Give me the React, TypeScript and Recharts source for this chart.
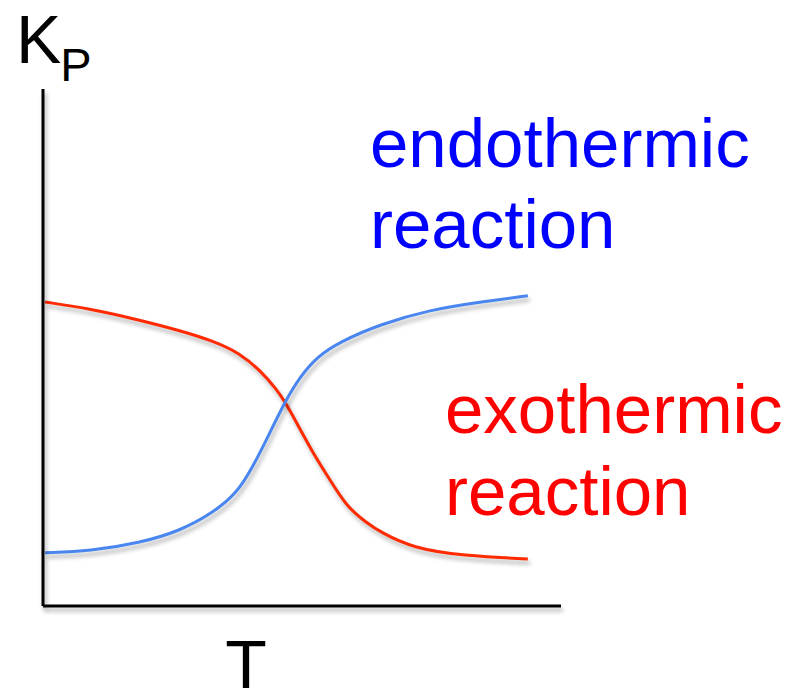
import React from 'react';
import { LineChart, Line, XAxis, YAxis, Customized } from 'recharts';

// T (arbitrary units) vs Kp (arbitrary units)
const exoT = [0.04, 0.91, 1.87, 2.64, 3.28, 3.8, 4.19, 4.52, 4.67, 4.9, 5.21, 5.54, 5.87, 6.25, 6.51, 7.14, 8.11, 9.36];
const exoKp = [5.88, 5.75, 5.53, 5.33, 5.13, 4.89, 4.56, 4.18, 3.95, 3.54, 2.96, 2.44, 1.91, 1.61, 1.43, 1.12, 0.97, 0.91];
const endoT = [0.04, 0.91, 1.87, 2.64, 3.28, 3.75, 4.05, 4.38, 4.67, 4.96, 5.29, 5.73, 6.51, 7.47, 8.44, 9.36];
const endoKp = [1.03, 1.06, 1.22, 1.45, 1.8, 2.19, 2.69, 3.35, 3.95, 4.43, 4.82, 5.11, 5.45, 5.73, 5.88, 6.0];

const exoData = exoT.map((t, i) => ({ t, kp: exoKp[i] }));
const endoData = endoT.map((t, i) => ({ t, kp: endoKp[i] }));

const FONT = '"Liberation Sans", Arial, Helvetica, sans-serif';

const Labels = () => (
  <g fontFamily={FONT}>
    <text x={16} y={63} fontSize={68} fill="#000">
      K
      <tspan fontSize={47} dx={-1} dy={18}>P</tspan>
    </text>
    <text x={246} y={688} fontSize={68} fill="#000" textAnchor="middle">T</text>
    <text x={370} y={167} fontSize={69} fill="#0000FF">endothermic</text>
    <text x={370} y={248} fontSize={69} fill="#0000FF">reaction</text>
    <text x={445} y={433} fontSize={69} fill="#FF0000">exothermic</text>
    <text x={445} y={515} fontSize={69} fill="#FF0000">reaction</text>
  </g>
);

export default function App() {
  return (
    <div style={{ width: 790, height: 691, background: '#fff' }}>
      <style>{`
        body { margin: 0; }
        .recharts-line-curve, .recharts-cartesian-axis-line {
          filter: drop-shadow(2px 4px 2px rgba(0,0,0,0.3));
        }
      `}</style>
      <LineChart
        width={790}
        height={691}
        margin={{ top: 89, left: 42, right: 229, bottom: 84 }}
      >
        <XAxis
          type="number"
          dataKey="t"
          domain={[0, 10]}
          height={1}
          tick={false}
          tickLine={false}
          axisLine={{ stroke: '#000', strokeWidth: 3 }}
          allowDataOverflow
        />
        <YAxis
          type="number"
          dataKey="kp"
          domain={[0, 10]}
          width={1}
          tick={false}
          tickLine={false}
          axisLine={{ stroke: '#000', strokeWidth: 3 }}
          allowDataOverflow
        />
        <Line
          data={exoData}
          dataKey="kp"
          type="basis"
          stroke="#FF2A00"
          strokeWidth={3}
          dot={false}
          activeDot={false}
          isAnimationActive={false}
        />
        <Line
          data={endoData}
          dataKey="kp"
          type="basis"
          stroke="#4A86F0"
          strokeWidth={3}
          dot={false}
          activeDot={false}
          isAnimationActive={false}
        />
        <Customized component={<Labels />} />
      </LineChart>
    </div>
  );
}
